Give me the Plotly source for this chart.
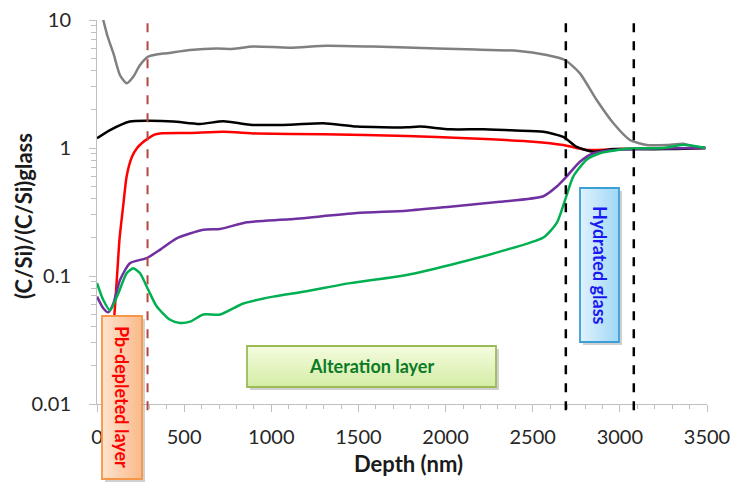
import plotly.graph_objects as go

# depth profiles, (C/Si)/(C/Si)glass ratios
gray_depth = [36, 60, 94, 132, 170, 208, 247, 294, 350, 400, 534, 687, 781, 896, 1107, 1318,
              1584, 1777, 2121, 2408, 2580, 2685, 2771, 2867, 2963, 3058, 3154, 3268, 3364, 3420, 3490]
gray_vals = [10, 7.5, 5.5, 3.7, 3.2, 3.6, 4.45, 5.17, 5.4, 5.5, 5.83, 6.0, 5.95, 6.2, 6.08, 6.3,
             6.2, 6.1, 5.9, 5.75, 5.33, 4.87, 3.83, 2.37, 1.56, 1.155, 1.055, 1.055, 1.08, 1.03, 1.0]

black_depth = [0, 75, 189, 294, 438, 591, 725, 878, 1107, 1299, 1490, 1777, 1853, 2025, 2217,
               2400, 2561, 2675, 2752, 2848, 2963, 3100, 3268, 3490]
black_vals = [1.19, 1.38, 1.61, 1.63, 1.61, 1.54, 1.62, 1.52, 1.52, 1.56, 1.47, 1.45, 1.47, 1.40, 1.40,
              1.37, 1.34, 1.22, 1.02, 0.935, 0.98, 0.98, 0.98, 1.0]

red_depth = [90, 100, 115, 130, 150, 170, 200, 230, 260, 294, 330, 361, 534, 725, 916, 1299,
             1777, 2121, 2503, 2675, 2809, 3000, 3490]
red_vals = [0.03, 0.05, 0.10, 0.2, 0.35, 0.6, 0.85, 1.0, 1.1, 1.19, 1.27, 1.30, 1.31, 1.34, 1.30, 1.28,
            1.24, 1.19, 1.12, 1.055, 0.965, 0.98, 1.0]

purple_depth = [0, 36, 65, 94, 132, 189, 285, 361, 457, 610, 706, 859, 1107, 1490, 1777, 2025,
                2312, 2561, 2638, 2695, 2771, 2848, 2982, 3200, 3490]
purple_vals = [0.069, 0.056, 0.052, 0.061, 0.093, 0.126, 0.138, 0.16, 0.197, 0.23, 0.233, 0.263, 0.277,
               0.31, 0.324, 0.348, 0.38, 0.42, 0.50, 0.60, 0.78, 0.91, 0.97, 0.99, 1.0]

green_depth = [0, 36, 75, 122, 170, 208, 247, 294, 342, 419, 476, 534, 610, 706, 839, 1011, 1203,
               1452, 1777, 2025, 2312, 2561, 2638, 2685, 2733, 2809, 2886, 3058, 3250, 3364, 3490]
green_vals = [0.088, 0.065, 0.054, 0.073, 0.105, 0.115, 0.105, 0.078, 0.058, 0.0455, 0.043, 0.044,
              0.05, 0.05, 0.061, 0.069, 0.076, 0.088, 0.102, 0.122, 0.155, 0.20, 0.26, 0.39, 0.60,
              0.81, 0.91, 0.99, 1.0, 1.06, 1.0]

boundary_pb = 290
boundary_hyd = [2690, 3080]

x_ticks = [0, 500, 1000, 1500, 2000, 2500, 3000, 3500]
y_ticks = [0.01, 0.1, 1, 10]
y_ticktext = ['0.01', '0.1', '1', '10']

FONT = 'Lato'
W, H = 733, 496
L, R, T, B = 97, 26, 20, 92
pw, ph = W - L - R, H - T - B


def px(x):
    return (x - L) / pw


def py(y):
    return (H - B - y) / ph


fig = go.Figure()

series = [
    (gray_depth, gray_vals, '#808080'),
    (red_depth, red_vals, '#FF0000'),
    (black_depth, black_vals, '#000000'),
    (purple_depth, purple_vals, '#7030A0'),
    (green_depth, green_vals, '#00B050'),
]
for d, v, c in series:
    fig.add_trace(go.Scatter(x=d, y=v, mode='lines', line=dict(color=c, width=2.5, shape='spline', smoothing=0.6),
                             showlegend=False, hoverinfo='skip'))

# vertical dashed boundaries
fig.add_shape(type='line', x0=boundary_pb, x1=boundary_pb, xref='x', yref='paper', y0=-0.016, y1=1.005,
              line=dict(color='#B5453F', width=2, dash='dash'))
for xb in boundary_hyd:
    fig.add_shape(type='line', x0=xb, x1=xb, xref='x', yref='paper', y0=-0.016, y1=1.005,
                  line=dict(color='#000000', width=2.5, dash='dash'))


def box(x0, x1, y0, y1, c_from, c_to, border, horizontal):
    # shadow
    fig.add_shape(type='rect', xref='paper', yref='paper', x0=px(x0 + 3), x1=px(x1 + 3), y0=py(y1 + 3), y1=py(y0 + 3),
                  fillcolor='rgba(120,120,120,0.35)', line=dict(width=0), layer='above')
    n = 14
    a = [int(c_from[i:i + 2], 16) for i in (1, 3, 5)]
    b = [int(c_to[i:i + 2], 16) for i in (1, 3, 5)]
    for k in range(n):
        t = k / (n - 1)
        col = 'rgb(%d,%d,%d)' % tuple(round(a[j] + (b[j] - a[j]) * t) for j in range(3))
        if horizontal:
            xa, xb_ = x0 + (x1 - x0) * k / n, x0 + (x1 - x0) * (k + 1) / n
            fig.add_shape(type='rect', xref='paper', yref='paper', x0=px(xa), x1=px(xb_ + 0.5), y0=py(y1), y1=py(y0),
                          fillcolor=col, line=dict(width=0), layer='above')
        else:
            ya, yb = y0 + (y1 - y0) * k / n, y0 + (y1 - y0) * (k + 1) / n
            fig.add_shape(type='rect', xref='paper', yref='paper', x0=px(x0), x1=px(x1), y0=py(yb + 0.5), y1=py(ya),
                          fillcolor=col, line=dict(width=0), layer='above')
    fig.add_shape(type='rect', xref='paper', yref='paper', x0=px(x0), x1=px(x1), y0=py(y1), y1=py(y0),
                  fillcolor='rgba(0,0,0,0)', line=dict(color=border, width=1.8), layer='above')


def label(x, y, text, size, color, angle=0):
    fig.add_annotation(x=px(x), y=py(y), xref='paper', yref='paper', text=text, textangle=angle,
                       xanchor='center', yanchor='middle', showarrow=False,
                       font=dict(family=FONT, size=size, color=color))


box(102, 142, 316, 479, '#FDE2CC', '#FBBB8C', '#F79646', True)
box(247, 496, 346, 387, '#F3FBDD', '#D5EEA6', '#9BBB59', False)
box(580, 619, 188, 342, '#DDF1FD', '#A3D8F7', '#3A9FD6', True)

label(122, 397, '<b>Pb-depleted layer</b>', 18, '#FF0000', 90)
label(371, 366, '<b>Alteration layer</b>', 18, '#0B7A25')
label(600, 265, '<b>Hydrated glass</b>', 18, '#1A1AF0', 90)

# axis titles
label(408, 463, '<b>Depth (nm)</b>', 22, '#1A1A1A')
label(23, 216, '<b>(C/Si)/(C/Si)glass</b>', 22, '#1A1A1A', -90)

y_minor = [m * 10 ** e for e in (-2, -1, 0) for m in range(2, 10)]

fig.update_xaxes(range=[0, 3500], tickvals=x_ticks, ticks='outside', ticklen=7, tickcolor='#BFBFBF',
                 showline=True, linecolor='#BFBFBF', linewidth=1, showgrid=False, zeroline=False,
                 tickfont=dict(family=FONT, size=20, color='#262626'), ticklabelstandoff=8,
                 automargin=False,
                 minor=dict(dtick=100, ticks='outside', ticklen=4, tickcolor='#BFBFBF', showgrid=False))
fig.update_yaxes(type='log', range=[-2, 1], tickvals=y_ticks, ticktext=y_ticktext, ticks='outside', ticklen=7,
                 tickcolor='#BFBFBF', showline=True, linecolor='#BFBFBF', linewidth=1, showgrid=False,
                 zeroline=False, tickfont=dict(family=FONT, size=20, color='#262626'), ticklabelstandoff=14,
                 automargin=False,
                 minor=dict(tickmode='array', tickvals=y_minor, ticks='outside', ticklen=5, tickcolor='#BFBFBF',
                            showgrid=False))

fig.update_layout(width=W, height=H, margin=dict(l=L, r=R, t=T, b=B), plot_bgcolor='white',
                  paper_bgcolor='white', showlegend=False)

fig.write_html("out.html", config={'displayModeBar': False},
               post_script="document.body.style.margin='0';document.body.style.overflow='hidden';")
